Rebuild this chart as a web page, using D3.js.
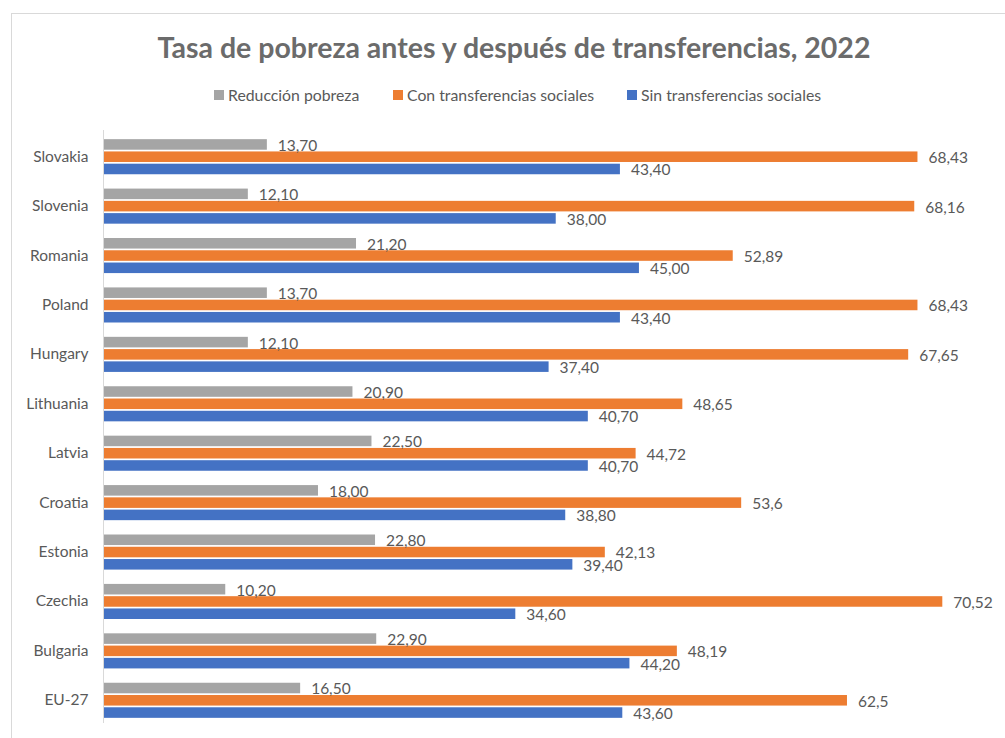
<!DOCTYPE html>
<html>
<head>
<meta charset="utf-8">
<script src="https://cdnjs.cloudflare.com/ajax/libs/d3/7.8.5/d3.min.js"></script>
<style>
  body { margin: 0; background: #fff; }
  text { font-family: Lato, "Open Sans", sans-serif; fill: #595959; }
</style>
</head>
<body>
<div id="chart"></div>
<script>
var countries = ["Slovakia", "Slovenia", "Romania", "Poland", "Hungary", "Lithuania",
  "Latvia", "Croatia", "Estonia", "Czechia", "Bulgaria", "EU-27"];
var seriesNames = ["Reducción pobreza", "Con transferencias sociales", "Sin transferencias sociales"];
var reduccion = [13.70, 12.10, 21.20, 13.70, 12.10, 20.90, 22.50, 18.00, 22.80, 10.20, 22.90, 16.50];
var conTransf = [68.43, 68.16, 52.89, 68.43, 67.65, 48.65, 44.72, 53.6, 42.13, 70.52, 48.19, 62.5];
var sinTransf = [43.40, 38.00, 45.00, 43.40, 37.40, 40.70, 40.70, 38.80, 39.40, 34.60, 44.20, 43.60];
var colors = ["#a5a5a5", "#ed7d31", "#4472c4"];

var width = 1005, height = 738;
var svg = d3.select("#chart").append("svg")
    .attr("width", width)
    .attr("height", height);

// chart frame
svg.append("rect")
    .attr("x", 11.5).attr("y", 13.5)
    .attr("width", 1010).attr("height", 740)
    .attr("fill", "none")
    .attr("stroke", "#d9d9d9");

svg.append("text")
    .attr("x", 514).attr("y", 58)
    .attr("text-anchor", "middle")
    .style("font-size", "28.5px")
    .style("font-weight", "bold")
    .style("fill", "#6b6b6b")
    .text("Tasa de pobreza antes y después de transferencias, 2022");

// legend
var legendX = [214, 393, 627];
var legend = svg.selectAll(".legend")
    .data(seriesNames)
    .enter().append("g")
    .attr("transform", function(d, i) { return "translate(" + legendX[i] + ",95)"; });
legend.append("rect")
    .attr("x", 0).attr("y", -5)
    .attr("width", 10).attr("height", 10)
    .attr("fill", function(d, i) { return colors[i]; });
legend.append("text")
    .attr("x", 14).attr("y", 0)
    .attr("dy", "0.35em")
    .style("font-size", "15.8px")
    .text(function(d) { return d; });

var x = d3.scaleLinear().domain([0, 80]).range([104, 1055]);

var y0 = d3.scaleBand()
    .domain(countries)
    .range([132, 725])
    .paddingInner(0.29)
    .paddingOuter(0.145);

var y1 = d3.scaleBand()
    .domain([0, 1, 2])
    .range([0, y0.bandwidth()])
    .paddingInner(0.14);

var fmt = [
  function(v) { return v.toFixed(2).replace(".", ","); },
  function(v) { return String(v).replace(".", ","); },
  function(v) { return v.toFixed(2).replace(".", ","); }
];

var rows = countries.map(function(c, i) {
  return { country: c, values: [reduccion[i], conTransf[i], sinTransf[i]] };
});

var groups = svg.selectAll(".group")
    .data(rows)
    .enter().append("g")
    .attr("transform", function(d) { return "translate(0," + y0(d.country) + ")"; });

groups.selectAll("rect")
    .data(function(d) { return d.values; })
    .enter().append("rect")
    .attr("x", x(0))
    .attr("y", function(d, i) { return y1(i); })
    .attr("width", function(d) { return x(d) - x(0); })
    .attr("height", y1.bandwidth())
    .attr("fill", function(d, i) { return colors[i]; });

groups.selectAll(".lbl")
    .data(function(d) { return d.values; })
    .enter().append("text")
    .attr("class", "lbl")
    .attr("x", function(d) { return x(d) + 11; })
    .attr("y", function(d, i) { return y1(i) + y1.bandwidth() / 2 + 1; })
    .attr("dy", "0.35em")
    .style("font-size", "15.5px")
    .text(function(d, i) { return fmt[i](d); });

// category axis
var yAxis = d3.scaleBand().domain(countries).range([132, 725]);
var axisG = svg.append("g")
    .attr("transform", "translate(103.5,0)")
    .call(d3.axisLeft(yAxis).tickSize(0).tickPadding(15));
axisG.select(".domain").attr("stroke", "#d9d9d9").attr("d", "M0,130V723");
axisG.selectAll("text")
    .style("font-size", "15.5px")
    .style("font-family", "Lato, 'Open Sans', sans-serif")
    .attr("fill", "#595959");
</script>
</body>
</html>
